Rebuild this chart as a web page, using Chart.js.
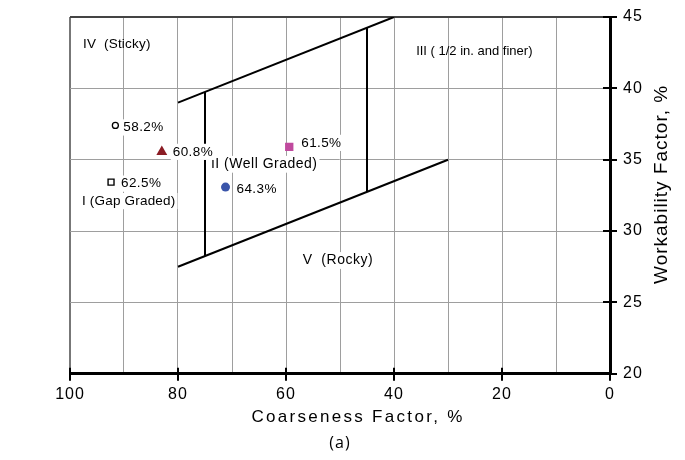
<!DOCTYPE html>
<html>
<head>
<meta charset="utf-8">
<script src="https://cdn.jsdelivr.net/npm/chart.js@4.4.1/dist/chart.umd.min.js"></script>
<style>
  html, body { margin: 0; padding: 0; background: #fff; }
</style>
</head>
<body>
<canvas id="chart" width="685" height="460"></canvas>
<script>
// zone boundaries (coarseness %, workability %)
const upperLineX = [80, 40];
const upperLineY = [39, 45];
const lowerLineX = [80, 30];
const lowerLineY = [27.5, 35];
const leftDividerX = [75, 75];
const leftDividerY = [39.75, 28.25];
const rightDividerX = [45, 45];
const rightDividerY = [44.25, 32.75];

// mixes
const mixNames = ['58.2%', '60.8%', '61.5%', '62.5%', '64.3%'];
const mixCoarseness = [91.6, 83.0, 59.4, 92.4, 71.2];
const mixWorkability = [37.4, 35.55, 35.9, 33.43, 33.08];

// zone names and where they sit
const zoneNames = ['IV  (Sticky)', 'III ( 1/2 in. and finer)', 'II (Well Graded)', 'I (Gap Graded)', 'V  (Rocky)'];
const zoneX = [97.6, 35.9, 73.9, 97.8, 56.9];
const zoneY = [43.1, 42.56, 34.68, 32.1, 27.94];

const xTickLabels = [100, 80, 60, 40, 20, 0];
const yTickLabels = [20, 25, 30, 35, 40, 45];

const markerStyles = [
  { pointStyle: 'circle', radius: 3, fill: '#fff', stroke: '#000', width: 1.3 },
  { pointStyle: 'triangle', radius: 6.3, fill: '#8B1C24', stroke: '#8B1C24', width: 0 },
  { pointStyle: 'rect', radius: 5.9, fill: '#C04A9E', stroke: '#C04A9E', width: 0 },
  { pointStyle: 'rect', radius: 4.2, fill: '#fff', stroke: '#000', width: 1.4 },
  { pointStyle: 'circle', radius: 4.5, fill: '#3A55AA', stroke: '#3A55AA', width: 0 }
];
const mixLabelOffset = [[8, 2], [11, 0], [12, -4], [10, 1.5], [11, 2.6]];
const zoneStyles = [
  { size: 13.5, spacing: 0.2, box: false },
  { size: 13, spacing: 0, box: false },
  { size: 14, spacing: 0.5, box: true },
  { size: 13.5, spacing: 0.2, box: true },
  { size: 14, spacing: 0.5, box: true }
];

const FONT = "'Liberation Sans', Arial, sans-serif";

function toPoints(xs, ys) {
  return xs.map((x, i) => ({ x: x, y: ys[i] }));
}

function boundary(xs, ys) {
  return {
    data: toPoints(xs, ys),
    showLine: true,
    borderColor: '#000',
    borderWidth: 2,
    pointRadius: 0,
    order: 2
  };
}

const datasets = [
  boundary(upperLineX, upperLineY),
  boundary(lowerLineX, lowerLineY),
  boundary(leftDividerX, leftDividerY),
  boundary(rightDividerX, rightDividerY)
];

mixNames.forEach((name, i) => {
  const s = markerStyles[i];
  datasets.push({
    label: name,
    data: [{ x: mixCoarseness[i], y: mixWorkability[i] }],
    pointStyle: s.pointStyle,
    pointRadius: s.radius,
    pointBackgroundColor: s.fill,
    pointBorderColor: s.stroke,
    pointBorderWidth: s.width,
    order: 1
  });
});

function drawLabel(ctx, text, x, y, size, spacing, box) {
  ctx.font = size + 'px ' + FONT;
  ctx.letterSpacing = spacing + 'px';
  ctx.textAlign = 'left';
  ctx.textBaseline = 'middle';
  const w = ctx.measureText(text).width;
  if (box) {
    ctx.fillStyle = '#fff';
    ctx.fillRect(x - 2, y - size * 0.6, w + 4, size * 1.2);
  }
  ctx.fillStyle = '#000';
  ctx.fillText(text, x, y);
}

const decor = {
  id: 'decor',
  beforeDraw(chart) {
    chart.ctx.letterSpacing = '1px';
  },
  afterDraw(chart) {
    const ctx = chart.ctx;
    const xs = chart.scales.x, ys = chart.scales.y;
    const area = chart.chartArea;
    ctx.save();

    // zone names
    zoneNames.forEach((t, i) => {
      const st = zoneStyles[i];
      drawLabel(ctx, t, xs.getPixelForValue(zoneX[i]), ys.getPixelForValue(zoneY[i]), st.size, st.spacing, st.box);
    });

    // mix labels
    mixNames.forEach((t, i) => {
      const px = xs.getPixelForValue(mixCoarseness[i]) + mixLabelOffset[i][0];
      const py = ys.getPixelForValue(mixWorkability[i]) + mixLabelOffset[i][1];
      drawLabel(ctx, t, px, py, 13.5, 0.4, true);
    });

    // tick marks crossing the axes
    ctx.strokeStyle = '#000';
    ctx.lineWidth = 2;
    ctx.beginPath();
    xTickLabels.forEach(v => {
      const px = Math.round(xs.getPixelForValue(v));
      ctx.moveTo(px, area.bottom - 6);
      ctx.lineTo(px, area.bottom + 7);
    });
    yTickLabels.forEach(v => {
      const py = Math.round(ys.getPixelForValue(v));
      ctx.moveTo(area.right - 7, py);
      ctx.lineTo(area.right + 7, py);
    });
    ctx.stroke();

    // axis titles
    ctx.fillStyle = '#000';
    ctx.textAlign = 'center';
    ctx.textBaseline = 'middle';
    ctx.font = '17px ' + FONT;
    ctx.letterSpacing = '2.3px';
    ctx.fillText('Coarseness Factor, %', (area.left + area.right) / 2 + 18, area.bottom + 44);

    ctx.translate(area.right + 52, (area.top + area.bottom) / 2 - 11);
    ctx.rotate(-Math.PI / 2);
    ctx.font = '19px ' + FONT;
    ctx.letterSpacing = '1px';
    ctx.fillText('Workability Factor, %', 0, 0);
    ctx.restore();
    ctx.letterSpacing = '0px';
  }
};

new Chart(document.getElementById('chart'), {
  type: 'scatter',
  data: { datasets: datasets },
  plugins: [decor],
  options: {
    responsive: false,
    animation: false,
    layout: { padding: { left: 70, top: 17, right: 0, bottom: 0 } },
    plugins: {
      legend: { display: false },
      tooltip: { enabled: false },
      title: {
        display: true,
        position: 'bottom',
        fullSize: false,
        text: '(a)',
        color: '#000',
        font: { family: "'Open Sans', sans-serif", size: 16, weight: 'normal' },
        padding: { top: 0, bottom: 7 }
      }
    },
    scales: {
      x: {
        type: 'linear',
        reverse: true,
        min: 0,
        max: 100,
        afterFit: s => { s.height = 60; s.paddingLeft = 0; s.paddingRight = 0; },
        border: { color: '#000', width: 3 },
        grid: {
          drawTicks: false,
          color: c => c.tick.value === 100 ? '#777' : '#9e9e9e',
          lineWidth: c => c.tick.value === 100 ? 2 : 1
        },
        ticks: {
          stepSize: 10,
          autoSkip: false,
          maxRotation: 0,
          padding: 11,
          color: '#000',
          font: { family: FONT, size: 16 },
          callback: v => xTickLabels.includes(v) ? String(v) : ''
        }
      },
      y: {
        type: 'linear',
        position: 'right',
        min: 20,
        max: 45,
        afterFit: s => { s.width = 75; s.paddingTop = 0; s.paddingBottom = 0; },
        border: { color: '#000', width: 3 },
        grid: {
          drawTicks: false,
          color: c => c.tick.value === 45 ? '#444' : '#9e9e9e',
          lineWidth: c => c.tick.value === 45 ? 2 : 1
        },
        ticks: {
          stepSize: 5,
          padding: 13,
          color: '#000',
          font: { family: FONT, size: 16 },
          callback: v => yTickLabels.includes(v) ? String(v) : ''
        }
      }
    }
  }
});
</script>
</body>
</html>
